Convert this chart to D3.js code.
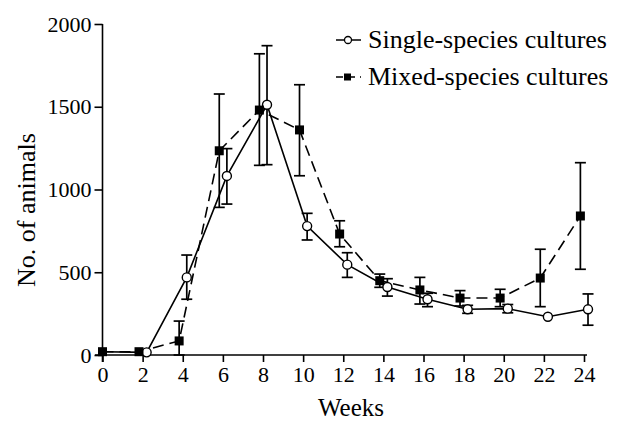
<!DOCTYPE html>
<html>
<head>
<meta charset="utf-8">
<script src="https://cdn.jsdelivr.net/npm/d3@7"></script>
<style>
  body { margin: 0; background: #fff; }
  svg text { font-family: "Liberation Serif", "Times New Roman", serif; fill: #000; }
</style>
</head>
<body>
<svg id="chart" width="620" height="432"></svg>
<script>
// data
const weeks = [0, 2, 4, 6, 8, 10, 12, 14, 16, 18, 20, 22, 24];

const singleMean = [20, 16, 469, 1082, 1512, 779, 546, 411, 337, 276, 280, 231, 276];
const singleHi   = [null, null, 604, 1247, 1869, 856, 618, 461, 373, 300, 305, null, 369];
const singleLo   = [null, null, 337, 912, 1150, 695, 469, 356, 292, 252, 255, null, 180];

const mixedMean = [20, 20, 85, 1234, 1480, 1360, 731, 449, 393, 344, 344, 465, 840];
const mixedHi   = [null, null, 205, 1577, 1820, 1633, 811, 489, 469, 389, 397, 639, 1162];
const mixedLo   = [null, null, 0, 892, 1146, 1083, 654, 409, 308, 296, 292, 292, 518];

const xTicks = [0, 2, 4, 6, 8, 10, 12, 14, 16, 18, 20, 22, 24];
const yTicks = [0, 500, 1000, 1500, 2000];

const svg = d3.select('#chart');

let x = d3.scaleLinear().domain([0, 24]).range([102.5, 584]);
let y = d3.scaleLinear().domain([0, 2000]).range([355, 24]);

// build point lists, points are nudged off the week a little as in the figure
function makeSeries(means, hi, lo, shift) {
    return weeks.map((w, i) => ({
        xv: w === 0 ? 0 : w + shift,
        v: means[i], hi: hi[i], lo: lo[i]
    }));
}
let single = makeSeries(singleMean, singleHi, singleLo, 0.2);
let mixed = makeSeries(mixedMean, mixedHi, mixedLo, -0.18);

// axes
let xAxis = d3.axisBottom(x).tickValues(xTicks).tickSize(7).tickPadding(4).tickFormat(d3.format('d'));
let yAxis = d3.axisLeft(y).tickValues(yTicks).tickSize(8).tickPadding(3).tickFormat(d3.format('d'));

let gx = svg.append('g').attr('transform', 'translate(0,355)').call(xAxis);
gx.select('.domain').attr('d', `M95,0H587`);
let gy = svg.append('g').attr('transform', 'translate(102.5,0)').call(yAxis);
gy.select('.domain').attr('d', `M0,24V362`);

svg.selectAll('.domain, .tick line')
    .attr('stroke', '#000')
    .attr('stroke-width', 1.6);
svg.selectAll('.tick text')
    .style('font-size', '22px')
    .style('font-family', '"Liberation Serif", serif');

svg.append('text')
    .attr('x', 351).attr('y', 416)
    .attr('text-anchor', 'middle')
    .style('font-size', '25px')
    .text('Weeks');

svg.append('text')
    .attr('transform', 'translate(35,210) rotate(-90)')
    .attr('text-anchor', 'middle')
    .style('font-size', '26px')
    .text('No. of animals');

// error bars
function drawErrors(data) {
    let g = svg.append('g').attr('stroke', '#000').attr('stroke-width', 1.7);
    data.filter(d => d.hi != null).forEach(d => {
        let cx = x(d.xv);
        g.append('line').attr('x1', cx).attr('x2', cx).attr('y1', y(d.hi)).attr('y2', y(d.lo));
        g.append('line').attr('x1', cx - 5.5).attr('x2', cx + 5.5).attr('y1', y(d.hi)).attr('y2', y(d.hi));
        g.append('line').attr('x1', cx - 5.5).attr('x2', cx + 5.5).attr('y1', y(d.lo)).attr('y2', y(d.lo));
    });
}
drawErrors(mixed);
drawErrors(single);

let line = d3.line().x(d => x(d.xv)).y(d => y(d.v));

svg.append('path')
    .datum(mixed)
    .attr('d', line)
    .attr('fill', 'none')
    .attr('stroke', '#000')
    .attr('stroke-width', 1.6)
    .attr('stroke-dasharray', '11,6');

svg.append('path')
    .datum(single)
    .attr('d', line)
    .attr('fill', 'none')
    .attr('stroke', '#000')
    .attr('stroke-width', 1.6);

// markers
svg.selectAll('.circ')
    .data(single.filter(d => d.xv > 0))
    .enter().append('circle')
    .attr('cx', d => x(d.xv))
    .attr('cy', d => y(d.v))
    .attr('r', 4.5)
    .attr('fill', '#fff')
    .attr('stroke', '#000')
    .attr('stroke-width', 1.4);

svg.selectAll('.sq')
    .data(mixed)
    .enter().append('rect')
    .attr('x', d => x(d.xv) - 4.5)
    .attr('y', d => y(d.v) - 4.5)
    .attr('width', 9)
    .attr('height', 9)
    .attr('fill', '#000');

// legend
let legend = svg.append('g');
legend.append('line').attr('x1', 336).attr('x2', 361).attr('y1', 40).attr('y2', 40)
    .attr('stroke', '#000').attr('stroke-width', 1.5);
legend.append('circle').attr('cx', 348).attr('cy', 40).attr('r', 3.5)
    .attr('fill', '#fff').attr('stroke', '#000').attr('stroke-width', 1.3);
legend.append('text').attr('x', 368).attr('y', 48).style('font-size', '26px')
    .text('Single-species cultures');

legend.append('line').attr('x1', 336).attr('x2', 361).attr('y1', 77).attr('y2', 77)
    .attr('stroke', '#000').attr('stroke-width', 1.5).attr('stroke-dasharray', '7,5');
legend.append('rect').attr('x', 344).attr('y', 73.5).attr('width', 7).attr('height', 7).attr('fill', '#000');
legend.append('text').attr('x', 368).attr('y', 85).style('font-size', '26px')
    .text('Mixed-species cultures');
</script>
</body>
</html>
